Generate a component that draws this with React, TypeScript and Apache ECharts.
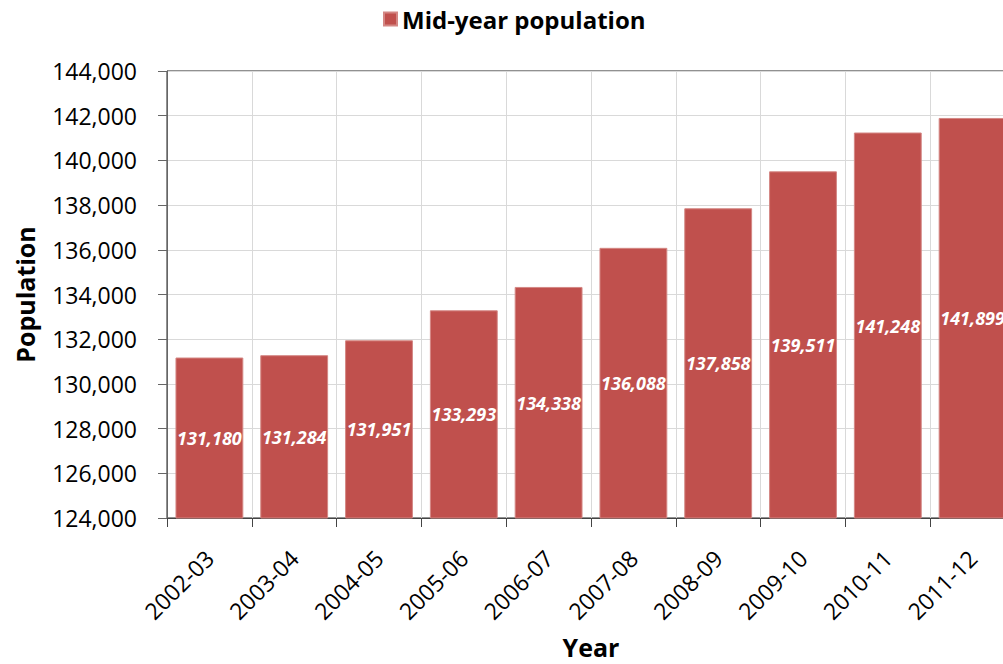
import React, { useEffect, useRef } from "react";
import * as echarts from "echarts";

const categories = [
  "2002-03", "2003-04", "2004-05", "2005-06", "2006-07",
  "2007-08", "2008-09", "2009-10", "2010-11", "2011-12",
];
const populationValues = [131180, 131284, 131951, 133293, 134338, 136088, 137858, 139511, 141248, 141899];
const seriesName = "Mid-year population";
const yMin = 124000;
const yMax = 144000;
const yStep = 2000;

const FONT = "'Open Sans', 'Noto Sans', sans-serif";
const fmt = (v: number) => Number(v).toLocaleString("en-US");

export default function App() {
  const ref = useRef<HTMLDivElement>(null);
  useEffect(() => {
    if (!ref.current) return;
    const chart = echarts.init(ref.current, null, { renderer: "svg" });
    chart.setOption({
      animation: false,
      backgroundColor: "#ffffff",
      textStyle: { fontFamily: FONT },
      legend: {
        data: [seriesName],
        left: 378,
        top: 2,
        icon: "rect",
        itemWidth: 13,
        itemHeight: 13,
        itemGap: 6,
        textStyle: { fontFamily: FONT, fontSize: 24, fontWeight: "bold", color: "#000" },
      },
      grid: {
        left: 167,
        top: 71,
        width: 848,
        height: 447,
        containLabel: false,
        outerBoundsMode: "none",
        show: true,
        borderColor: "#222",
        borderWidth: 1,
        backgroundColor: "transparent",
      },
      xAxis: {
        type: "category",
        data: categories,
        name: "Year",
        nameLocation: "middle",
        nameGap: 116,
        nameTextStyle: { fontFamily: FONT, fontSize: 25, fontWeight: "bold", color: "#000" },
        axisLine: { show: true, lineStyle: { color: "#444", width: 1 } },
        axisTick: { show: true, length: 9, alignWithLabel: false, lineStyle: { color: "#444" } },
        splitLine: { show: true, lineStyle: { color: "#D9D9D9", width: 1 } },
        axisLabel: {
          rotate: 45,
          margin: 36,
          fontFamily: FONT,
          fontSize: 23,
          color: "#000",
          interval: 0,
        },
      },
      yAxis: {
        type: "value",
        min: yMin,
        max: yMax,
        interval: yStep,
        name: "Population",
        nameLocation: "middle",
        nameGap: 130,
        nameTextStyle: { fontFamily: FONT, fontSize: 25, fontWeight: "bold", color: "#000" },
        axisLine: { show: true, lineStyle: { color: "#666", width: 1 } },
        axisTick: { show: true, length: 9, lineStyle: { color: "#666" } },
        splitLine: { show: true, lineStyle: { color: "#D9D9D9", width: 1 } },
        axisLabel: {
          margin: 30,
          fontFamily: FONT,
          fontSize: 23,
          color: "#000",
          formatter: (v: number) => fmt(v),
        },
      },
      series: [
        {
          name: seriesName,
          type: "bar",
          data: populationValues,
          barCategoryGap: "20%",
          itemStyle: { color: "#C0504D", borderColor: "#D48784", borderWidth: 1 },
          label: {
            show: true,
            position: "inside",
            color: "#fff",
            fontFamily: FONT,
            fontSize: 18,
            fontWeight: "bold",
            fontStyle: "italic",
            formatter: (p: any) => fmt(p.value),
          },
        },
      ],
    });
    return () => chart.dispose();
  }, []);
  return (
    <div
      ref={ref}
      style={{ position: "fixed", left: 0, top: 0, width: 1003, height: 664, background: "#fff" }}
    />
  );
}
